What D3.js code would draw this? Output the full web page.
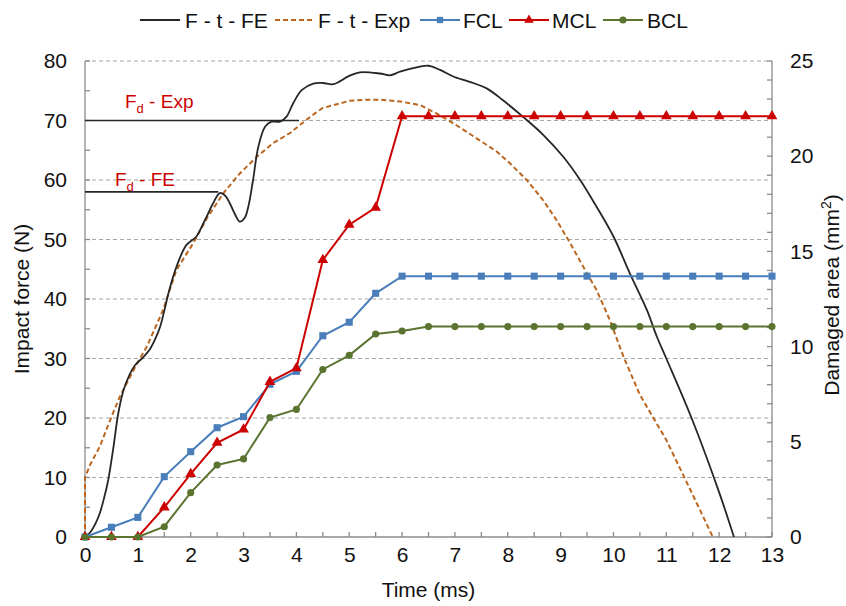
<!DOCTYPE html>
<html><head><meta charset="utf-8">
<script src="https://cdn.jsdelivr.net/npm/d3@7/dist/d3.min.js"></script>
<style>body{margin:0;background:#fff;} text{font-family:"Liberation Sans",Arial,sans-serif;}</style>
</head><body><svg id="c" width="846" height="606"></svg>
<script>
// ---- data ----
const feTime  = [0,0.1,0.2,0.28,0.36,0.44,0.54,0.63,0.73,0.84,0.95,1.1,1.23,1.33,1.42,1.5,1.58,1.73,1.92,2.11,2.2,2.3,2.42,2.55,2.65,2.74,2.84,2.93,3.02,3.09,3.18,3.28,3.41,3.53,3.69,3.81,3.94,4.1,4.32,4.5,4.7,5.0,5.2,5.58,5.77,5.96,6.21,6.5,6.72,6.97,7.28,7.6,7.91,8.29,8.67,9.05,9.37,9.68,10.0,10.31,10.63,10.82,11.0,11.5,12.0,12.28];
const feForce = [0,0.8,2.3,4.0,6.5,9.6,15.2,20.8,24.7,27.2,28.9,30.2,31.6,33.3,35.3,38.0,41.0,45.4,49.1,50.5,52.0,53.8,56.0,57.8,57.4,56.1,54.2,53.0,53.6,55.5,60,65.6,69,69.8,69.8,70.6,72.9,75.1,76.2,76.3,76.1,77.5,78.1,77.9,77.6,78.2,78.8,79.2,78.5,77.4,76.5,75.4,73.4,70.6,67.6,63.9,60,55.5,50.5,44.3,38.2,33.7,30.0,19.5,7.5,0];
const expTime  = [0,0,0.1,0.28,0.5,0.66,0.95,1.17,1.48,1.73,2.05,2.3,2.62,2.93,3.25,3.56,3.88,4.19,4.35,4.5,5.0,5.3,5.58,5.96,6.34,6.65,7.03,7.41,7.79,8.04,8.36,8.67,8.92,9.18,9.43,9.68,9.93,10.19,10.5,11.0,11.5,11.88];
const expForce = [0,10,12.2,15.2,20.2,23.6,28.6,32,38.2,44.9,49.4,53.5,57.8,61.1,63.9,66.2,67.9,70.1,71.2,72.1,73.3,73.5,73.5,73.2,72.6,71.2,69.2,67.0,64.8,62.8,60,56.6,53.3,49.4,45.4,41.5,36.5,30.3,23.9,16.3,7.1,0];
const fdFE  = {value:58, tEnd:2.52, label:"FE"};
const fdExp = {value:70, tEnd:4.05, label:"Exp"};
const damageTime = [0,0.5,1,1.5,2,2.5,3,3.5,4,4.5,5,5.5,6,6.5,7,7.5,8,8.5,9,9.5,10,10.5,11,11.5,12,12.5,13];
const fcl = [0,0.51,1.03,3.17,4.48,5.74,6.32,8.02,8.7,10.57,11.28,12.8,13.7,13.7,13.7,13.7,13.7,13.7,13.7,13.7,13.7,13.7,13.7,13.7,13.7,13.7,13.7];
const mcl = [0,0,0,1.56,3.31,4.95,5.65,8.15,8.87,14.55,16.4,17.3,22.1,22.1,22.1,22.1,22.1,22.1,22.1,22.1,22.1,22.1,22.1,22.1,22.1,22.1,22.1];
const bcl = [0,0,0,0.54,2.33,3.78,4.1,6.27,6.7,8.8,9.54,10.66,10.82,11.05,11.05,11.05,11.05,11.05,11.05,11.05,11.05,11.05,11.05,11.05,11.05,11.05,11.05];
const xTicks = d3.range(0,14,1);
const yTicks = d3.range(0,81,10);
const y2Ticks = d3.range(0,26,5);
const legendLabels = ["F - t - FE","F - t - Exp","FCL","MCL","BCL"];

// ---- layout ----
const svg = d3.select("#c");
const L=85, R=772, T=61, B=537;
const x = d3.scaleLinear().domain([0,13]).range([L,R]);
const y = d3.scaleLinear().domain([0,80]).range([B,T]);
const y2 = d3.scaleLinear().domain([0,25]).range([B,T]);
const axisCol="#8c8c8c", gridCol="#a6a6a6";
const cBlack="#262626", cOrange="#BA661F", cBlue="#4A7EBB", cRed="#CC0000", cGreen="#5A7430";
const fs=21, txtCol="#111";

// gridlines
svg.append("g").selectAll("line").data(yTicks.filter(d=>d>0)).join("line")
  .attr("x1",L).attr("x2",R).attr("y1",d=>y(d)).attr("y2",d=>y(d))
  .attr("stroke",gridCol).attr("stroke-width",1.1).attr("stroke-dasharray","4,3");

// axes lines
const gA = svg.append("g").attr("stroke",axisCol).attr("stroke-width",1.3);
gA.append("line").attr("x1",L).attr("x2",L).attr("y1",T).attr("y2",B);
gA.append("line").attr("x1",R).attr("x2",R).attr("y1",T).attr("y2",B);
gA.append("line").attr("x1",L).attr("x2",R).attr("y1",B).attr("y2",B);
gA.selectAll(".xt").data(d3.range(0,13.01,0.5)).join("line")
  .attr("x1",d=>x(d)).attr("x2",d=>x(d)).attr("y1",B).attr("y2",B-5);
gA.selectAll(".yt").data(d3.range(0,80.1,5)).join("line")
  .attr("x1",L).attr("x2",L+5).attr("y1",d=>y(d)).attr("y2",d=>y(d));
gA.selectAll(".y2t").data(d3.range(0,25.1,1)).join("line")
  .attr("x1",R).attr("x2",R-5).attr("y1",d=>y2(d)).attr("y2",d=>y2(d));

// tick labels via d3 axes
const ax = svg.append("g").attr("transform",`translate(0,${B})`)
  .call(d3.axisBottom(x).tickValues(xTicks).tickSize(0).tickPadding(10));
const ayl = svg.append("g").attr("transform",`translate(${L},0)`)
  .call(d3.axisLeft(y).tickValues(yTicks).tickSize(0).tickPadding(18));
const ayr = svg.append("g").attr("transform",`translate(${R},0)`)
  .call(d3.axisRight(y2).tickValues(y2Ticks).tickSize(0).tickPadding(18));
[ax,ayl,ayr].forEach(g=>{g.select(".domain").remove();
  g.selectAll("text").attr("font-size",fs).attr("fill",txtCol).style("font-family","Liberation Sans, Arial, sans-serif");});

// titles
svg.append("text").attr("x",(L+R)/2).attr("y",597).attr("text-anchor","middle").attr("font-size",fs).attr("fill",txtCol).text("Time (ms)");
svg.append("text").attr("transform",`translate(29,${(T+B)/2}) rotate(-90)`).attr("text-anchor","middle").attr("font-size",fs).attr("fill",txtCol).text("Impact force (N)");
const rt = svg.append("text").attr("transform",`translate(839,${(T+B)/2-4}) rotate(-90)`).attr("text-anchor","middle").attr("font-size",fs).attr("fill",txtCol);
rt.append("tspan").text("Damaged area (mm");
rt.append("tspan").attr("font-size",14).attr("dy",-8).text("2");
rt.append("tspan").attr("dy",8).text(")");

// Fd lines
[fdFE,fdExp].forEach(f=>{
  svg.append("line").attr("x1",x(0)).attr("x2",x(f.tEnd)).attr("y1",y(f.value)).attr("y2",y(f.value))
    .attr("stroke",cBlack).attr("stroke-width",1.6);
});

// curves
const fePts = feTime.map((t,i)=>[t,feForce[i]]);
const expPts = expTime.map((t,i)=>[t,expForce[i]]);
svg.append("path").datum(expPts)
  .attr("d",d3.line().x(d=>x(d[0])).y(d=>y(d[1])).curve(d3.curveLinear))
  .attr("fill","none").attr("stroke",cOrange).attr("stroke-width",2).attr("stroke-dasharray","5,3");
svg.append("path").datum(fePts)
  .attr("d",d3.line().x(d=>x(d[0])).y(d=>y(d[1])).curve(d3.curveCatmullRom.alpha(0.5)))
  .attr("fill","none").attr("stroke",cBlack).attr("stroke-width",1.8);

// damage series
function series(vals,col,shape){
  const pts = damageTime.map((t,i)=>[t,vals[i]]);
  svg.append("path").datum(pts).attr("d",d3.line().x(d=>x(d[0])).y(d=>y2(d[1])))
    .attr("fill","none").attr("stroke",col).attr("stroke-width",2);
  const sym = d3.symbol().type(shape).size(shape===d3.symbolSquare?50:(shape===d3.symbolTriangle?50:40));
  svg.append("g").selectAll("path").data(pts).join("path")
    .attr("transform",d=>`translate(${x(d[0])},${y2(d[1])})`).attr("d",sym).attr("fill",col);
}
series(fcl,cBlue,d3.symbolSquare);
series(mcl,cRed,d3.symbolTriangle);
series(bcl,cGreen,d3.symbolCircle);

// annotations
function fdLabel(xp,yp,sub){
  const t=svg.append("text").attr("x",xp).attr("y",yp).attr("font-size",19).attr("fill",cRed);
  t.append("tspan").text("F");
  t.append("tspan").attr("font-size",13).attr("dy",5).text("d");
  t.append("tspan").attr("dy",-5).text(" - "+sub);
}
fdLabel(125,108,fdExp.label);
fdLabel(115,186,fdFE.label);

// legend
const lg = svg.append("g");
const items = [
  {x:140,tx:185,col:cBlack,dash:null,shape:null},
  {x:275,tx:318,col:cOrange,dash:"5,3",shape:null},
  {x:420,tx:463,col:cBlue,dash:null,shape:d3.symbolSquare},
  {x:509,tx:552,col:cRed,dash:null,shape:d3.symbolTriangle},
  {x:603,tx:647,col:cGreen,dash:null,shape:d3.symbolCircle}];
items.forEach((it,i)=>{
  const ly=20;
  lg.append("line").attr("x1",it.x).attr("x2",it.x+40).attr("y1",ly).attr("y2",ly)
    .attr("stroke",it.col).attr("stroke-width",2).attr("stroke-dasharray",it.dash);
  if(it.shape) lg.append("path").attr("transform",`translate(${it.x+20},${ly})`)
    .attr("d",d3.symbol().type(it.shape).size(40)).attr("fill",it.col);
  lg.append("text").attr("x",it.tx).attr("y",ly+8).attr("font-size",fs).attr("fill",txtCol).text(legendLabels[i]);
});
</script></body></html>
